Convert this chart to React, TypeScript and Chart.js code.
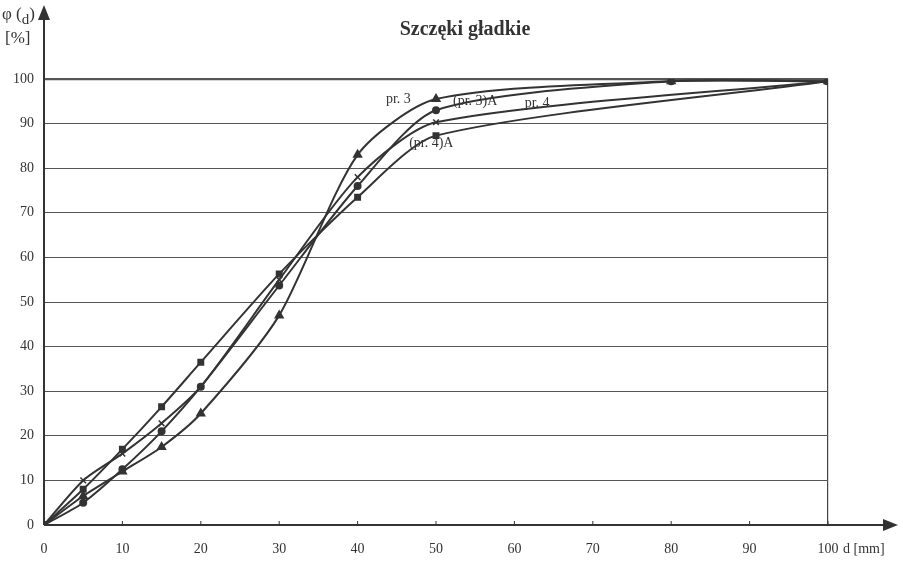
import React, { useEffect, useRef } from "react";
import { Chart, registerables } from "chart.js";

Chart.register(...registerables);

// sieve sizes d [mm]
const sizesPr3 = [0, 5, 10, 15, 20, 30, 40, 50, 80, 100];
const sizesPr4 = [0, 5, 10, 15, 20, 30, 40, 50, 100];

// cumulative passing phi(d) [%]
const pr3 = [0, 6.5, 12, 17.5, 25, 47, 83, 95.5, 99.5, 99.5];
const pr3A = [0, 5, 12.5, 21, 31, 53.7, 76, 93, 99.5, 99.5];
const pr4 = [0, 10, 16, 22.8, 31, 55, 78, 90.3, 99.5];
const pr4A = [0, 8, 17, 26.5, 36.5, 56.3, 73.5, 87.3, 99.5];

const seriesNames = ["pr. 3", "(pr. 3)A", "pr. 4", "(pr. 4)A"];
// label anchor positions in data units (d, phi)
const labelD = [45.2, 55, 62.9, 49.4];
const labelPhi = [95.5, 95.1, 94.6, 85.6];

const xTicks = [0, 10, 20, 30, 40, 50, 60, 70, 80, 90, 100];

const title = "Szczęki gładkie";
const INK = "#333333";
const FONT = "'Liberation Serif', 'Times New Roman', serif";

const pts = (xs: number[], ys: number[]) => xs.map((x, i) => ({ x, y: ys[i] }));

const decorPlugin = {
  id: "decor",
  afterDraw(chart: any) {
    const ctx = chart.ctx;
    const xs = chart.scales.x;
    const ys = chart.scales.y;
    const x0 = xs.getPixelForValue(0);
    const y0 = ys.getPixelForValue(0);
    ctx.save();
    ctx.strokeStyle = INK;
    ctx.fillStyle = INK;
    ctx.lineWidth = 2;
    // y axis
    ctx.beginPath();
    ctx.moveTo(x0, y0);
    ctx.lineTo(x0, 16);
    ctx.stroke();
    ctx.beginPath();
    ctx.moveTo(x0, 5);
    ctx.lineTo(x0 - 6, 20);
    ctx.lineTo(x0 + 6, 20);
    ctx.closePath();
    ctx.fill();
    // x axis
    ctx.beginPath();
    ctx.moveTo(x0, y0);
    ctx.lineTo(886, y0);
    ctx.stroke();
    ctx.beginPath();
    ctx.moveTo(898, y0);
    ctx.lineTo(883, y0 - 6);
    ctx.lineTo(883, y0 + 6);
    ctx.closePath();
    ctx.fill();
    // small ticks on x axis
    ctx.lineWidth = 1;
    xTicks.forEach((t) => {
      const px = xs.getPixelForValue(t);
      ctx.beginPath();
      ctx.moveTo(px, y0);
      ctx.lineTo(px, y0 - 4);
      ctx.stroke();
    });

    // title
    ctx.textAlign = "center";
    ctx.textBaseline = "middle";
    ctx.font = `bold 20px ${FONT}`;
    ctx.fillText(title, 465, 30);

    // y axis title
    ctx.textAlign = "left";
    ctx.font = `17px ${FONT}`;
    ctx.fillText("φ (", 2, 15);
    const w = ctx.measureText("φ (").width;
    ctx.font = `15px ${FONT}`;
    ctx.fillText("d", 2 + w, 20);
    const w2 = ctx.measureText("d").width;
    ctx.font = `17px ${FONT}`;
    ctx.fillText(")", 2 + w + w2, 15);
    ctx.fillText("[%]", 5, 39);

    // x axis title
    ctx.font = `14px ${FONT}`;
    ctx.fillText("d [mm]", 843, 549);

    // series labels
    ctx.textAlign = "center";
    ctx.font = `14px ${FONT}`;
    seriesNames.forEach((n, i) => {
      ctx.fillText(n, xs.getPixelForValue(labelD[i]), ys.getPixelForValue(labelPhi[i]));
    });
    ctx.restore();
  },
};

export default function App() {
  const ref = useRef<HTMLCanvasElement>(null);
  useEffect(() => {
    if (!ref.current) return;
    const common = {
      borderColor: INK,
      backgroundColor: INK,
      borderWidth: 2,
      pointBorderColor: INK,
      pointBackgroundColor: INK,
      tension: 0.25,
      fill: false,
    };
    const chart = new Chart(ref.current, {
      type: "line",
      data: {
        datasets: [
          { ...common, label: seriesNames[0], data: pts(sizesPr3, pr3), pointStyle: "triangle", pointRadius: 4 },
          { ...common, label: seriesNames[1], data: pts(sizesPr3, pr3A), pointStyle: "circle", pointRadius: 3 },
          { ...common, label: seriesNames[2], data: pts(sizesPr4, pr4), pointStyle: "crossRot", pointRadius: 4, pointBorderWidth: 1.5 },
          { ...common, label: seriesNames[3], data: pts(sizesPr4, pr4A), pointStyle: "rect", pointRadius: 3.5 },
        ],
      },
      options: {
        responsive: false,
        animation: false,
        devicePixelRatio: 1,
        layout: { padding: { top: 79, right: 75, left: 0, bottom: 0 } },
        plugins: { legend: { display: false }, tooltip: { enabled: false }, title: { display: false } },
        scales: {
          x: {
            type: "linear",
            min: 0,
            max: 100,
            afterFit: (s: any) => { s.height = 39; },
            afterBuildTicks: (s: any) => { s.ticks = xTicks.map((v) => ({ value: v })); },
            ticks: {
              color: INK,
              font: { family: FONT, size: 14 },
              padding: 16,
              maxRotation: 0,
              autoSkip: false,
            },
            grid: {
              drawTicks: false,
              color: (c: any) => (c.tick && c.tick.value === 100 ? "#444" : "rgba(0,0,0,0)"),
              lineWidth: 1.2,
            },
            border: { display: false },
          },
          y: {
            type: "linear",
            min: 0,
            max: 100,
            afterFit: (s: any) => { s.width = 44; },
            ticks: {
              stepSize: 10,
              color: INK,
              font: { family: FONT, size: 14 },
              padding: 10,
            },
            grid: {
              drawTicks: false,
              color: "#555",
              lineWidth: (c: any) => (c.tick && c.tick.value === 100 ? 2.2 : 1),
            },
            border: { display: false },
          },
        },
      },
      plugins: [decorPlugin],
    });
    return () => chart.destroy();
  }, []);
  return (
    <div style={{ position: "absolute", left: 0, top: 0, width: 903, height: 564, background: "#fff" }}>
      <canvas ref={ref} width={903} height={564} style={{ display: "block" }} />
    </div>
  );
}
